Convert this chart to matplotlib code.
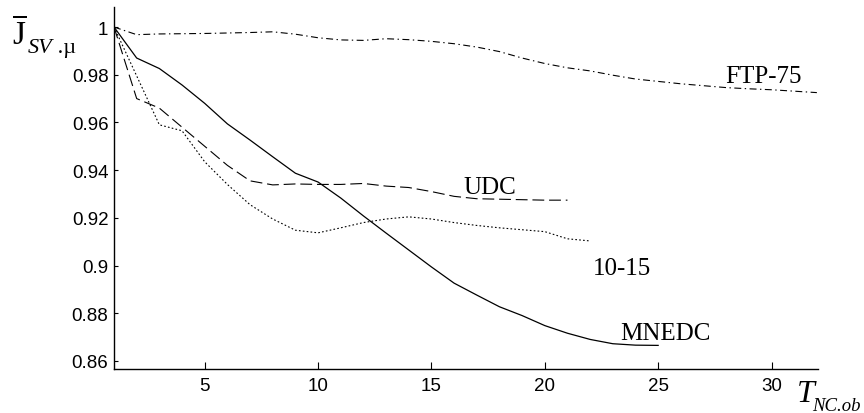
import numpy as np
import matplotlib.pyplot as plt
from matplotlib.ticker import FuncFormatter

# cycle length (x) and normalised value (y)
x_ftp = list(range(1, 33))
y_ftp = [1.0, 0.9968, 0.9971, 0.9972, 0.9973, 0.9975, 0.9977, 0.998, 0.997, 0.9955,
         0.9946, 0.9944, 0.9951, 0.9947, 0.994, 0.993, 0.9916, 0.9897, 0.987, 0.9847,
         0.9829, 0.9816, 0.9798, 0.9782, 0.9772, 0.9762, 0.9754, 0.9746, 0.9741, 0.9737,
         0.9731, 0.9725]

x_mnedc = list(range(1, 26))
y_mnedc = [1.0, 0.987, 0.9826, 0.9757, 0.968, 0.9594, 0.9526, 0.9456, 0.9387, 0.935,
           0.9283, 0.9208, 0.9136, 0.9065, 0.8994, 0.8926, 0.8876, 0.8827, 0.879, 0.8748,
           0.8716, 0.869, 0.8672, 0.8666, 0.8665]

x_udc = list(range(1, 22))
y_udc = [1.0, 0.970, 0.966, 0.958, 0.950, 0.942, 0.9355, 0.9338, 0.9342, 0.934,
         0.934, 0.9344, 0.9333, 0.9327, 0.931, 0.929, 0.928, 0.9278, 0.9276, 0.9274,
         0.9274]

x_1015 = list(range(1, 23))
y_1015 = [1.0, 0.9795, 0.959, 0.9565, 0.9435, 0.934, 0.9255, 0.9195, 0.9148, 0.9137,
          0.9158, 0.918, 0.9195, 0.9204, 0.9195, 0.918, 0.9168, 0.9158, 0.915, 0.9142,
          0.9112, 0.9103]

x_ticks = [5, 10, 15, 20, 25, 30]
y_ticks = [0.86, 0.88, 0.9, 0.92, 0.94, 0.96, 0.98, 1.0]

plt.rcParams['font.family'] = 'Liberation Sans'
plt.rcParams['lines.scale_dashes'] = False
plt.rcParams['mathtext.fontset'] = 'custom'
plt.rcParams['mathtext.rm'] = 'Liberation Serif'
plt.rcParams['mathtext.it'] = 'Liberation Serif:italic'

W, H = 864, 414
fig = plt.figure(figsize=(8.64, 4.14), dpi=100)
ax = fig.add_axes([114 / W, 1 - 370 / H, (818 - 114) / W, (370 - 8) / H])

k = 'black'
ax.plot(x_ftp, y_ftp, color=k, lw=0.8, linestyle=(0, (5, 2.5, 1, 2.5)))
ax.plot(x_mnedc, y_mnedc, color=k, lw=0.9)
ax.plot(x_udc, y_udc, color=k, lw=0.8, linestyle=(0, (8.5, 3.5)))
ax.plot(x_1015, y_1015, color=k, lw=0.8, linestyle=(0, (1.2, 1.6)))

ax.set_xlim(1, 32.05)
ax.set_ylim(0.8566, 1.0084)
ax.set_xticks(x_ticks)
ax.set_yticks(y_ticks)
ax.yaxis.set_major_formatter(FuncFormatter(lambda v, p: '%g' % round(v, 2)))
ax.tick_params(direction='in', labelsize=13.5)
ax.tick_params(axis='x', length=5, pad=6)
ax.tick_params(axis='y', length=3, pad=4)
for s in ['top', 'right']:
    ax.spines[s].set_visible(False)
for s in ['left', 'bottom']:
    ax.spines[s].set_linewidth(1.0)


def ftext(px, py, s, **kw):
    fig.text(px / W, 1 - py / H, s, va='baseline', **kw)


serif = 'Liberation Serif'
ftext(725, 83, 'FTP-75', family=serif, fontsize=18)
ftext(463, 194, 'UDC', family=serif, fontsize=18)
ftext(593, 275, '10-15', family=serif, fontsize=18)
ftext(620, 340, 'MNEDC', family=serif, fontsize=18)

# axis labels
ftext(12, 44, r'$\overline{\mathrm{J}}$', fontsize=24)
ftext(28, 53, 'SV', family=serif, style='italic', fontsize=16)
ftext(52, 53, ' .\u00b5', family=serif, fontsize=16)
ftext(797, 402, 'T', family=serif, style='italic', fontsize=23)
ftext(812, 411, 'NC.ob', family=serif, style='italic', fontsize=13.5)

fig.savefig('out.png', dpi=100)
